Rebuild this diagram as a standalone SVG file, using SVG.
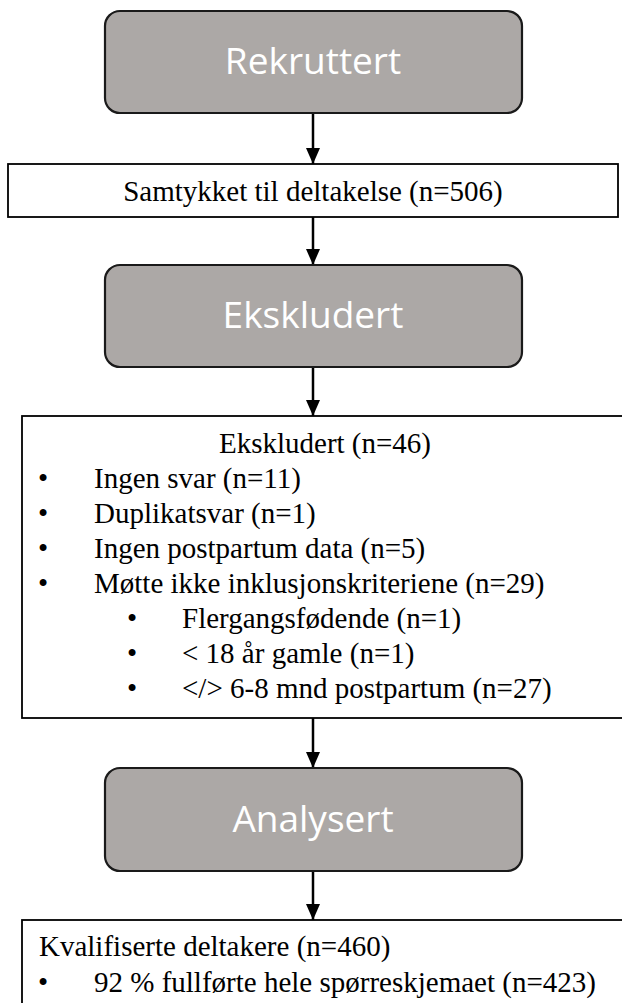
<svg xmlns="http://www.w3.org/2000/svg" width="622" height="1003" viewBox="0 0 622 1003">
<style>
.stage{fill:#aca8a6;stroke:#1a1a1a;stroke-width:2.2}
.stage-t{font-family:"Open Sans","Liberation Sans",sans-serif;font-size:37px;fill:#ffffff;text-anchor:middle}
.box{fill:#ffffff;stroke:#000000;stroke-width:1.8}
.t{font-family:"Liberation Serif","Times New Roman",serif;font-size:29px;fill:#000000}
.c{text-anchor:middle}
.conn{stroke:#000000;stroke-width:2.5;fill:none;marker-end:url(#ah)}
</style>
<defs>
<marker id="ah" markerUnits="userSpaceOnUse" markerWidth="16" markerHeight="16" viewBox="0 0 16 16" refX="16" refY="8" orient="auto">
<path d="M0,1 L16,8 L0,15 Z" fill="#000000"/>
</marker>
</defs>
<rect width="622" height="1003" fill="#ffffff"/>
<g id="connectors">
<line class="conn" x1="313" y1="113" x2="313" y2="164"/>
<line class="conn" x1="313" y1="217" x2="313" y2="265"/>
<line class="conn" x1="313" y1="367" x2="313" y2="416"/>
<line class="conn" x1="313" y1="718" x2="313" y2="768"/>
<line class="conn" x1="313" y1="871" x2="313" y2="920"/>
</g>
<g id="rekruttert">
<rect class="stage" x="105" y="11" width="417" height="102" rx="15" ry="15"/>
<text class="stage-t" x="313" y="74">Rekruttert</text>
</g>
<g id="samtykket">
<rect class="box" x="8" y="164" width="610" height="53"/>
<text class="t c" x="313" y="201">Samtykket til deltakelse (n=506)</text>
</g>
<g id="ekskludert">
<rect class="stage" x="105" y="265" width="417" height="102" rx="15" ry="15"/>
<text class="stage-t" x="313" y="328">Ekskludert</text>
</g>
<g id="ekskludert-detaljer">
<rect class="box" x="22" y="416" width="606" height="302"/>
<text class="t c" x="325" y="453">Ekskludert (n=46)</text>
<text class="t" x="38" y="488">•</text><text class="t" x="94" y="488">Ingen svar (n=11)</text>
<text class="t" x="38" y="523">•</text><text class="t" x="94" y="523">Duplikatsvar (n=1)</text>
<text class="t" x="38" y="558">•</text><text class="t" x="94" y="558">Ingen postpartum data (n=5)</text>
<text class="t" x="38" y="593">•</text><text class="t" x="94" y="593">Møtte ikke inklusjonskriteriene (n=29)</text>
<text class="t" x="127" y="628">•</text><text class="t" x="182" y="628">Flergangsfødende (n=1)</text>
<text class="t" x="127" y="663">•</text><text class="t" x="182" y="663">&lt; 18 år gamle (n=1)</text>
<text class="t" x="127" y="698">•</text><text class="t" x="182" y="698">&lt;/&gt; 6-8 mnd postpartum (n=27)</text>
</g>
<g id="analysert">
<rect class="stage" x="105" y="768" width="417" height="103" rx="15" ry="15"/>
<text class="stage-t" x="313" y="832">Analysert</text>
</g>
<g id="kvalifiserte">
<rect class="box" x="22" y="920" width="606" height="100"/>
<text class="t" x="39" y="956">Kvalifiserte deltakere (n=460)</text>
<text class="t" x="38" y="992">•</text><text class="t" x="94" y="992">92 % fullførte hele spørreskjemaet (n=423)</text>
</g>
</svg>
